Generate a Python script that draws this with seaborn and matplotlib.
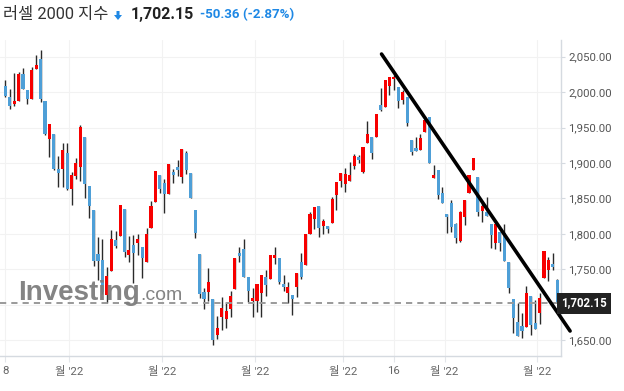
import numpy as np
import pandas as pd
import seaborn as sns
import matplotlib.pyplot as plt
from matplotlib.patches import Polygon
import matplotlib.transforms as mtransforms

# --- DADOS (velas diárias) ---
opens = [2008.6, 1993.6, 1983.2, 1988.0, 2025.6, 2003.0, 1990.8, 2032.2, 2046.8, 1987.5,
         1933.3, 1940.9, 1891.0, 1892.0, 1913.6, 1863.7, 1881.6, 1894.7, 1936.2, 1867.4,
         1833.5, 1771.0, 1763.0, 1713.5, 1747.9, 1791.0, 1797.3, 1835.0, 1770.5, 1784.1,
         1787.4, 1781.8, 1760.6, 1808.6, 1845.3, 1882.9, 1871.2, 1855.7, 1887.2, 1894.7,
         1880.6, 1914.5, 1885.3, 1833.5, 1771.4, 1717.7, 1717.7, 1707.4, 1657.5, 1682.0,
         1679.2, 1694.2, 1721.5, 1772.3, 1778.0, 1738.5, 1705.5, 1705.5, 1715.9, 1738.5,
         1736.6, 1765.8, 1765.3, 1728.6, 1715.9, 1713.1, 1724.3, 1760.1, 1755.4, 1799.7,
         1820.8, 1839.2, 1811.4, 1811.4, 1814.7, 1854.3, 1875.0, 1870.3, 1875.0, 1895.7,
         1908.4, 1887.7, 1928.6, 1937.1, 1936.2, 1981.8, 1979.5, 2008.6, 2018.1, 2007.7,
         1988.9, 1992.6, 1932.4, 1921.5, 1918.3, 1944.2, 1964.4, 1879.2, 1890.0, 1858.0,
         1827.9, 1843.9, 1813.8, 1790.2, 1824.1, 1858.0, 1890.0, 1880.6, 1832.6, 1831.2,
         1813.8, 1786.5, 1803.0, 1800.6, 1760.6, 1707.4, 1675.9, 1669.7, 1668.8, 1712.1,
         1673.5, 1687.6, 1737.1, 1748.8, 1757.3, 1734.7]
highs = [2017.0, 2004.0, 2026.5, 2028.4, 2033.6, 2003.0, 2035.0, 2052.4, 2059.5, 1987.5,
         1955.0, 1940.9, 1909.8, 1927.7, 1927.7, 1887.7, 1906.5, 1953.1, 1936.2, 1867.4,
         1833.5, 1795.0, 1792.0, 1752.6, 1805.3, 1804.4, 1840.6, 1835.0, 1797.3, 1797.7,
         1799.7, 1781.8, 1807.7, 1846.7, 1888.6, 1882.9, 1876.9, 1898.5, 1891.0, 1904.2,
         1919.7, 1916.9, 1885.3, 1833.5, 1771.4, 1722.9, 1751.2, 1707.4, 1684.3, 1711.2,
         1702.7, 1719.6, 1765.3, 1780.8, 1792.1, 1738.5, 1722.9, 1728.6, 1741.3, 1748.8,
         1770.0, 1780.8, 1765.3, 1741.8, 1732.4, 1713.1, 1744.1, 1772.3, 1799.2, 1830.3,
         1837.3, 1839.2, 1820.3, 1811.4, 1852.4, 1873.1, 1886.3, 1892.4, 1900.9, 1912.1,
         1911.2, 1922.0, 1959.2, 1937.1, 1969.1, 2005.4, 2017.0, 2020.9, 2024.2, 2007.7,
         2003.0, 1992.6, 1932.4, 1937.1, 1940.4, 1964.4, 1964.4, 1897.1, 1890.0, 1865.5,
         1827.9, 1847.7, 1815.7, 1832.6, 1847.7, 1883.0, 1907.4, 1880.6, 1842.9, 1852.4,
         1813.8, 1813.8, 1803.0, 1813.8, 1760.6, 1707.4, 1701.7, 1688.6, 1726.2, 1712.1,
         1706.5, 1716.8, 1776.1, 1767.7, 1772.3, 1735.6]
lows = [1993.6, 1976.6, 1980.9, 1988.0, 2004.9, 1982.8, 1990.8, 2032.2, 1986.0, 1939.9,
        1908.9, 1890.0, 1865.5, 1865.5, 1861.8, 1840.1, 1876.9, 1875.0, 1850.0, 1821.8,
        1754.9, 1734.7, 1715.0, 1701.7, 1747.9, 1779.4, 1797.3, 1766.7, 1760.6, 1730.9,
        1770.0, 1737.0, 1760.6, 1808.6, 1845.3, 1857.1, 1829.8, 1855.7, 1872.1, 1881.6,
        1871.2, 1883.9, 1850.9, 1793.5, 1708.8, 1693.3, 1705.5, 1642.9, 1651.4, 1664.1,
        1666.4, 1682.9, 1721.5, 1759.6, 1739.4, 1704.1, 1682.0, 1690.0, 1682.0, 1712.1,
        1736.6, 1757.3, 1729.1, 1719.6, 1701.7, 1685.3, 1710.2, 1735.6, 1755.4, 1799.7,
        1806.7, 1795.9, 1799.2, 1800.6, 1814.7, 1833.5, 1866.5, 1859.4, 1875.0, 1891.0,
        1899.4, 1885.3, 1928.6, 1905.1, 1936.2, 1973.8, 1979.5, 1995.9, 2003.0, 1977.1,
        1983.2, 1952.2, 1911.2, 1917.3, 1918.3, 1944.2, 1899.4, 1879.2, 1848.6, 1843.9,
        1800.6, 1803.0, 1787.4, 1787.9, 1812.4, 1858.0, 1890.0, 1825.1, 1817.0, 1825.0,
        1779.4, 1778.0, 1776.1, 1762.0, 1716.8, 1659.4, 1655.6, 1652.3, 1668.8, 1657.0,
        1665.0, 1672.6, 1737.1, 1733.7, 1748.8, 1702.15]
closes = [1994.5, 1980.9, 1987.5, 2025.6, 2004.9, 1990.8, 2031.2, 2038.3, 1990.3, 1940.9,
          1955.0, 1891.0, 1885.3, 1918.3, 1863.7, 1883.0, 1899.4, 1950.3, 1870.3, 1839.7,
          1762.0, 1762.0, 1718.2, 1740.3, 1792.5, 1783.2, 1840.6, 1774.7, 1777.1, 1772.4,
          1792.6, 1765.3, 1799.7, 1839.2, 1888.6, 1863.7, 1856.1, 1898.5, 1883.4, 1890.0,
          1919.7, 1890.0, 1850.9, 1800.6, 1714.9, 1707.4, 1731.9, 1650.0, 1666.4, 1694.7,
          1691.4, 1712.1, 1765.3, 1768.6, 1739.4, 1719.6, 1709.3, 1728.6, 1741.3, 1728.1,
          1770.0, 1770.0, 1732.4, 1724.8, 1725.3, 1708.4, 1744.1, 1738.5, 1799.2, 1827.9,
          1837.3, 1807.7, 1817.5, 1806.2, 1848.6, 1873.1, 1885.3, 1883.9, 1883.0, 1909.8,
          1904.2, 1922.0, 1940.4, 1913.6, 1969.1, 1974.8, 2017.0, 2020.9, 2020.9, 1987.9,
          2000.6, 1956.9, 1915.9, 1917.3, 1934.7, 1960.6, 1899.4, 1883.0, 1854.7, 1843.9,
          1823.2, 1810.0, 1793.5, 1831.2, 1847.7, 1883.0, 1907.4, 1831.2, 1839.2, 1825.5,
          1798.2, 1813.8, 1787.4, 1762.0, 1722.9, 1680.6, 1655.6, 1663.1, 1715.9, 1671.2,
          1665.0, 1709.8, 1776.1, 1763.0, 1752.51, 1702.15]

xtick_pos = [0, 14.5, 35.5, 56.5, 76.5, 88, 99.5, 120.5]
xtick_labels = ["8", "월 '22", "월 '22", "월 '22", "월 '22", "16", "월 '22", "월 '22"]
ytick_values = [1650, 1700, 1750, 1800, 1850, 1900, 1950, 2000, 2050]
trend_x = [85.2, 127.9]
trend_y = [2053.8, 1662.7]
last_price = 1702.15
change_txt = "-50.36 (-2.87%)"
title_txt = "러셀 2000 지수"

UP = '#f70000'
DOWN = '#4e9fd7'

sns.set_theme(style="white")
plt.rcParams['font.family'] = ['Roboto', 'Noto Sans CJK KR', 'DejaVu Sans']

df = pd.DataFrame({'open': opens, 'high': highs, 'low': lows, 'close': closes})
df['x'] = np.arange(len(df))
df['up'] = df['close'] >= df['open']
df['bottom'] = df[['open', 'close']].min(axis=1)
df['height'] = (df['close'] - df['open']).abs().clip(lower=1.5)
cores = np.where(df['up'], UP, DOWN)

fig = plt.figure(figsize=(6.24, 3.91), dpi=100)
ax = fig.add_axes([0, 35 / 391, 561 / 624, 316 / 391])

# grade
for v in ytick_values:
    ax.axhline(v, color='#f2f2f2', lw=0.8, zorder=0)
for p in xtick_pos:
    ax.axvline(p, color='#f2f2f2', lw=0.8, zorder=0)

# velas
ax.vlines(df['x'], df['low'], df['high'], color='#2a2a2a', lw=1.0, zorder=2)
ax.bar(df['x'], df['height'], bottom=df['bottom'], width=0.7, color=cores,
       linewidth=0, zorder=3)

# linha do preço atual
ax.axhline(last_price, color='#9a9a9a', lw=1.4, linestyle=(0, (3.2, 2.6)), zorder=4)

# linha de tendência
ax.plot(trend_x, trend_y, color='black', lw=2.6, solid_capstyle='round',
        zorder=6, clip_on=False)

ax.set_xlim(-1.2, 125.84)
ax.set_ylim(1627.4, 2073.6)

ax.yaxis.tick_right()
ax.set_yticks(ytick_values)
ax.set_yticklabels(['' if v == 1700 else f'{v:,.2f}' for v in ytick_values])
ax.set_xticks(xtick_pos)
ax.set_xticklabels(xtick_labels)
ax.tick_params(axis='y', colors='#d5dae0', labelcolor='#555555', labelsize=8.2,
               length=3, width=0.8, pad=2, right=True, left=False)
ax.tick_params(axis='x', colors='#e3e6ea', labelcolor='#666666', labelsize=8.2,
               length=4, width=0.8, pad=3, bottom=True)
for s in ['top', 'left']:
    ax.spines[s].set_visible(False)
for s in ['right', 'bottom']:
    ax.spines[s].set_color('#d5dae0')
    ax.spines[s].set_linewidth(1.0)

# etiqueta do preço
trans = mtransforms.blended_transform_factory(ax.transAxes, ax.transData)
ax.text(1.0, last_price, f'{last_price:,.2f}', transform=trans, ha='left', va='center',
        color='white', fontsize=8.3, fontweight='bold', clip_on=False, zorder=10,
        bbox=dict(boxstyle='square,pad=0.35', facecolor='#222222', edgecolor='none'))

# marca d'água
renderer = fig.canvas.get_renderer()
wm = fig.text(18 / 624, 1 - 300 / 391, 'Investing', fontsize=20, fontweight='bold',
              family='Liberation Sans', color='#7d7d7d', alpha=0.95, va='baseline', zorder=8)
bb = wm.get_window_extent(renderer=renderer)
fig.text(bb.x1 / 624 + 1 / 624, 1 - 300 / 391, '.com', fontsize=14,
         family='Liberation Sans', color='#7d7d7d', alpha=0.95, va='baseline', zorder=8)

# cabeçalho
ytop = 1 - 15 / 391
fig.text(3 / 624, ytop, title_txt, fontsize=11.8, color='#333333', va='center')
seta = np.array([[116.5, 11], [119.5, 11], [119.5, 15], [122, 15], [118, 20],
                 [114, 15], [116.5, 15]])
seta[:, 0] /= 624
seta[:, 1] = 1 - seta[:, 1] / 391
fig.patches.append(Polygon(seta, closed=True, transform=fig.transFigure,
                           facecolor='#1e88e5', edgecolor='none'))
fig.text(131 / 624, ytop, f'{last_price:,.2f}', fontsize=11.5, fontweight='bold',
         color='#222222', va='center')
fig.text(200 / 624, ytop, change_txt, fontsize=9.6, fontweight='bold',
         color='#1e88e5', va='center')

fig.savefig('out.png', dpi=100)
plt.close(fig)
